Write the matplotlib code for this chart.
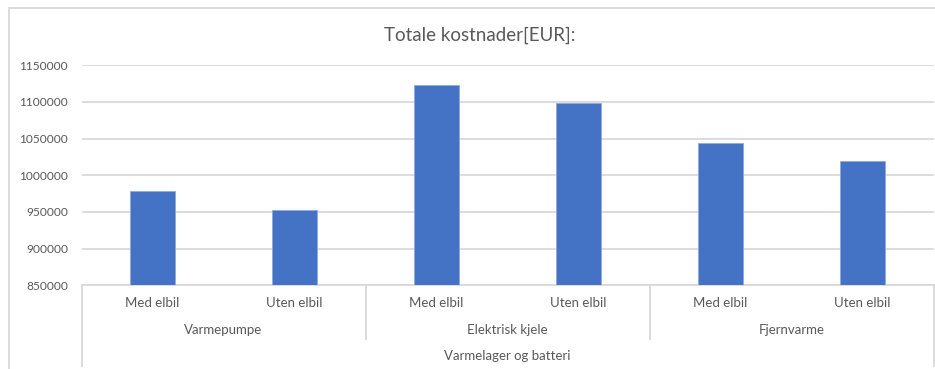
import matplotlib
matplotlib.use("Agg")
import matplotlib.pyplot as plt
from matplotlib.patches import Rectangle
from matplotlib.lines import Line2D
from matplotlib.ticker import MultipleLocator, FuncFormatter

# Total costs per scenario (EUR)
sub_labels = ["Med elbil", "Uten elbil", "Med elbil", "Uten elbil", "Med elbil", "Uten elbil"]
group_labels = ["Varmepumpe", "Elektrisk kjele", "Fjernvarme"]
outer_label = "Varmelager og batteri"
costs = [979000, 953000, 1123000, 1098000, 1044000, 1019000]
title = "Totale kostnader[EUR]:"

plt.rcParams["font.family"] = ["Lato", "DejaVu Sans"]
text_color = "#595959"
line_color = "#d9d9d9"
bar_color = "#4472C4"

W, H = 935, 369
fig = plt.figure(figsize=(W / 100, H / 100), dpi=100)
fig.patch.set_facecolor("white")

# chart frame
fig.add_artist(Rectangle((9 / W, -0.1), 1.2, 1 - 8 / H + 0.1, transform=fig.transFigure,
                         fill=False, edgecolor=line_color, linewidth=1.3))

left, right, top, bottom = 81.5, 933.5, 65.3, 285.3
ax = fig.add_axes([left / W, 1 - bottom / H, (right - left) / W, (bottom - top) / H])

x = list(range(len(costs)))
ax.bar(x, costs, width=0.31, color=bar_color, edgecolor="#8fa9dc", linewidth=0.6, zorder=3)

ax.set_xlim(-0.5, len(costs) - 0.5)
ax.set_ylim(850000, 1150000)
ax.yaxis.set_major_locator(MultipleLocator(50000))
ax.yaxis.set_major_formatter(FuncFormatter(lambda v, p: f"{int(v)}"))
ax.grid(axis="y", color=line_color, linewidth=1.3, zorder=0)
ax.tick_params(axis="y", length=0, pad=9.7, labelsize=8.6, labelcolor=text_color)
ax.set_xticks([])
for s in ["top", "right", "left"]:
    ax.spines[s].set_visible(False)
ax.spines["bottom"].set_color(line_color)
ax.spines["bottom"].set_linewidth(1.3)

ah = bottom - top
def ay(py):
    return -(py - bottom) / ah

trans = ax.get_xaxis_transform()
for i, lab in enumerate(sub_labels):
    ax.text(i, ay(303), lab, transform=trans, ha="center", va="center",
            fontsize=9.5, color=text_color)
for g, lab in enumerate(group_labels):
    ax.text(2 * g + 0.5, ay(330), lab, transform=trans, ha="center", va="center",
            fontsize=9.5, color=text_color)
ax.text((len(costs) - 1) / 2, ay(356), outer_label, transform=trans, ha="center",
        va="center", fontsize=9.5, color=text_color)

# category boxes below the axis
for xv in (-0.5, len(costs) - 0.5):
    ax.add_line(Line2D([xv, xv], [0, ay(366)], transform=trans, color=line_color,
                       linewidth=1.3, clip_on=False))
for xv in (1.5, 3.5):
    ax.add_line(Line2D([xv, xv], [0, ay(339)], transform=trans, color=line_color,
                       linewidth=1.3, clip_on=False))

fig.text(480 / W, 1 - 35 / H, title, ha="center", va="center", fontsize=13.5, color=text_color)

fig.savefig("out.png", dpi=100, facecolor="white")
